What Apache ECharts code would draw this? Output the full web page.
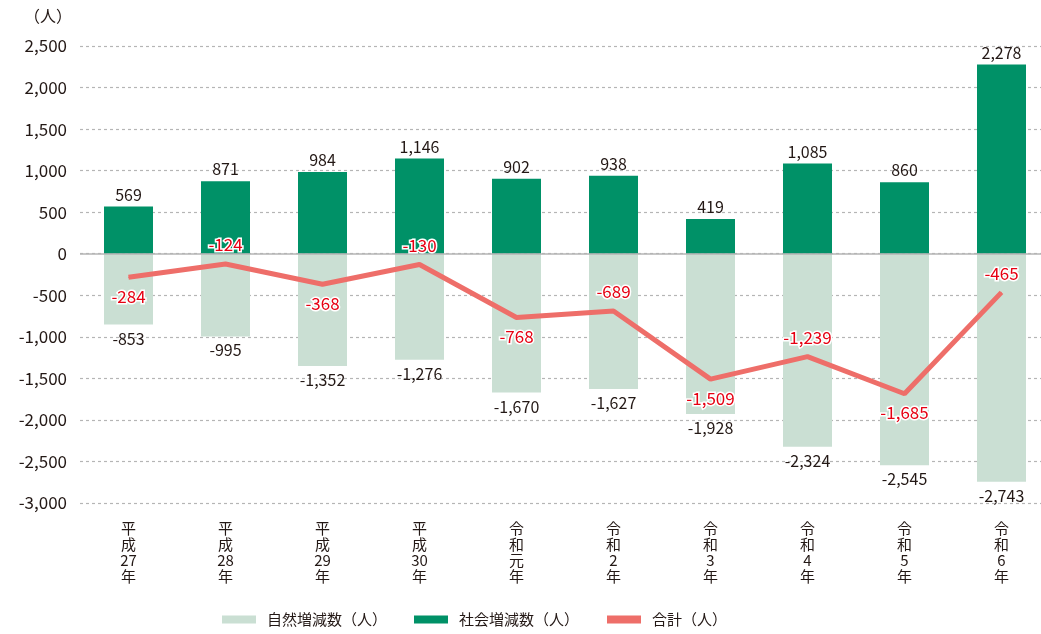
<!DOCTYPE html>
<html>
<head>
<meta charset="utf-8">
<script src="https://cdn.jsdelivr.net/npm/echarts@6/dist/echarts.min.js"></script>
<style>
html, body { margin: 0; padding: 0; background: #fff; }
#main { width: 1041px; height: 634px; }
</style>
</head>
<body>
<div id="main"></div>
<script>
// 年度
var categories = ['平成27年', '平成28年', '平成29年', '平成30年', '令和元年', '令和2年', '令和3年', '令和4年', '令和5年', '令和6年'];
// 自然増減数（人）
var naturalValues = [-853, -995, -1352, -1276, -1670, -1627, -1928, -2324, -2545, -2743];
// 社会増減数（人）
var socialValues = [569, 871, 984, 1146, 902, 938, 419, 1085, 860, 2278];
// 合計（人）
var totalValues = [-284, -124, -368, -130, -768, -689, -1509, -1239, -1685, -465];
// 合計ラベルの上下
var totalLabelPos = ['bottom', 'top', 'bottom', 'top', 'bottom', 'top', 'bottom', 'top', 'bottom', 'top'];

var fontFamily = '"Noto Sans CJK JP", "Noto Sans", sans-serif';
var textColor = '#231815';

function fmt(v) {
    return Number(v).toLocaleString('en-US');
}

// 縦書き用
function vertical(s) {
    return s.replace(/(\d+)/g, '|$1|').split('|').filter(function (p) { return p; }).map(function (p) {
        return /^\d+$/.test(p) ? p : p.split('').join('\n');
    }).join('\n');
}

function legendAt(left, name) {
    return {
        bottom: 2,
        left: left,
        itemWidth: 34,
        itemHeight: 8,
        textStyle: { color: textColor, fontSize: 15, fontFamily: fontFamily, padding: [0, 0, 0, 6] },
        data: [{ name: name, icon: 'rect' }]
    };
}

var myChart = echarts.init(document.getElementById('main'));

var option = {
    animation: false,
    textStyle: { fontFamily: fontFamily },
    grid: {
        left: 80,
        top: 46,
        width: 970,
        height: 457,
        containLabel: false,
        outerBoundsMode: 'none'
    },
    legend: [
        legendAt(217, '自然増減数（人）'),
        legendAt(409, '社会増減数（人）'),
        legendAt(602, '合計（人）')
    ],
    xAxis: {
        type: 'category',
        data: categories,
        axisLine: { show: false },
        axisTick: { show: false },
        axisLabel: {
            color: textColor,
            fontSize: 15,
            lineHeight: 16,
            margin: 17,
            verticalAlign: 'top',
            formatter: function (v) { return vertical(v); }
        }
    },
    yAxis: {
        type: 'value',
        min: -3000,
        max: 2500,
        interval: 500,
        name: '（人）',
        nameLocation: 'end',
        nameGap: 22,
        nameTextStyle: { color: textColor, fontSize: 16, align: 'right', padding: [0, 8, 0, 0] },
        axisLine: { show: false },
        axisTick: { show: false },
        axisLabel: {
            color: textColor,
            fontSize: 17,
            margin: 13,
            formatter: function (v) { return fmt(v); }
        },
        splitLine: {
            lineStyle: {
                color: '#b5b5b5',
                type: [3, 3],
                width: 1.2
            }
        }
    },
    series: [
        {
            name: '自然増減数（人）',
            type: 'bar',
            stack: 'pop',
            barWidth: 49,
            itemStyle: { color: '#cadfd3' },
            label: {
                show: true,
                position: 'bottom',
                distance: 6,
                color: textColor,
                fontSize: 16,
                formatter: function (p) { return fmt(p.value); }
            },
            data: naturalValues
        },
        {
            name: '社会増減数（人）',
            type: 'bar',
            stack: 'pop',
            barWidth: 49,
            itemStyle: { color: '#009167' },
            label: {
                show: true,
                position: 'top',
                distance: 4,
                color: textColor,
                fontSize: 16,
                formatter: function (p) { return fmt(p.value); }
            },
            markLine: {
                silent: true,
                symbol: 'none',
                label: { show: false },
                lineStyle: { color: '#b5b5b5', type: 'solid', width: 1.5 },
                data: [{ yAxis: 0 }]
            },
            data: socialValues
        },
        {
            name: '合計（人）',
            type: 'line',
            symbol: 'circle',
            symbolSize: 1,
            showSymbol: true,
            z: 5,
            lineStyle: { color: '#ee6e69', width: 5 },
            itemStyle: { color: '#ee6e69' },
            data: totalValues.map(function (v, i) {
                return {
                    value: v,
                    label: { position: totalLabelPos[i] }
                };
            }),
            label: {
                show: true,
                distance: 10,
                color: '#e60012',
                fontSize: 17,
                fontWeight: 'normal',
                textBorderColor: '#fff',
                textBorderWidth: 3,
                formatter: function (p) { return fmt(p.value); }
            }
        }
    ]
};

myChart.setOption(option);
</script>
</body>
</html>
